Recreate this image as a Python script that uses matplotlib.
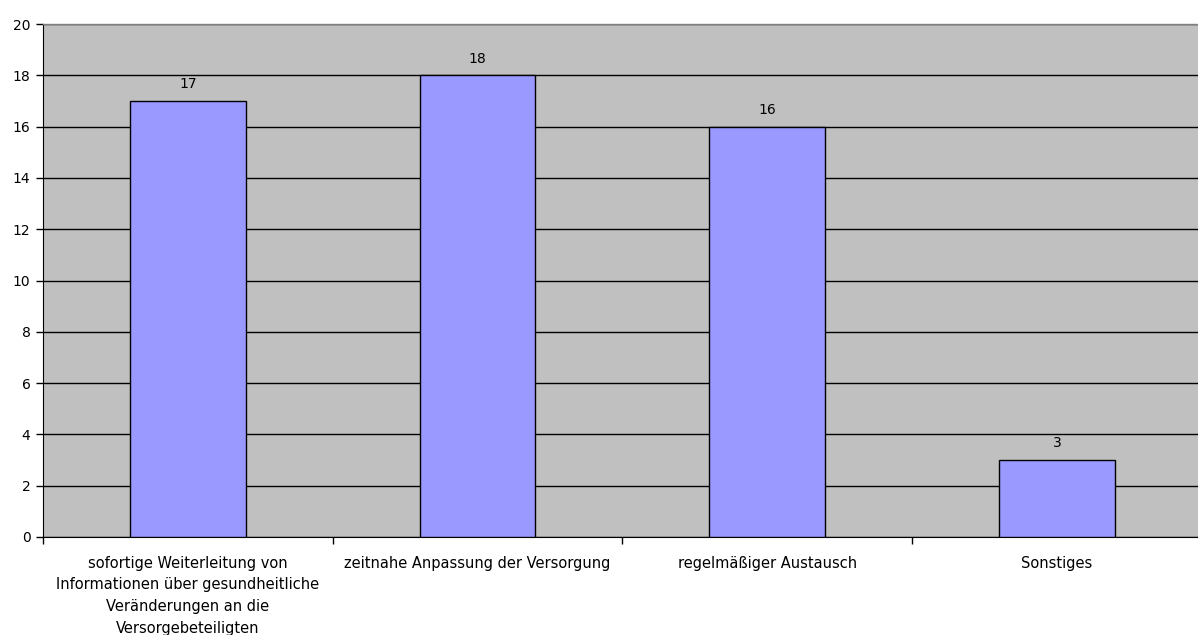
import matplotlib
matplotlib.use("Agg")
import matplotlib.pyplot as plt

categories = [
    "sofortige Weiterleitung von\nInformationen über gesundheitliche\nVeränderungen an die\nVersorgebeteiligten",
    "zeitnahe Anpassung der Versorgung",
    "regelmäßiger Austausch",
    "Sonstiges",
]
values = [17, 18, 16, 3]
yticks = [0, 2, 4, 6, 8, 10, 12, 14, 16, 18, 20]

plt.rcParams['font.family'] = ['DejaVu Sans']

W, H = 1198, 635
fig = plt.figure(figsize=(W / 100, H / 100), dpi=100)
left, right, top, bottom = 43, 1198, 24, 537
ax = fig.add_axes([left / W, 1 - bottom / H, (right - left) / W, (bottom - top) / H])
ax.set_facecolor('#C0C0C0')

cat_w = 289.7
xs = list(range(len(categories)))
bars = ax.bar(xs, values, width=0.4, color='#9999FF', edgecolor='#000000', linewidth=1, zorder=3)
for x, v in zip(xs, values):
    ax.annotate(str(v), (x, v), xytext=(0, 7), textcoords='offset points',
                ha='center', va='bottom', fontsize=10, color='#000000')

ax.set_xlim(-0.5, -0.5 + (right - left) / cat_w)
ax.set_ylim(0, 20)
ax.set_yticks(yticks)
ax.yaxis.grid(True, color='#000000', linewidth=1, zorder=1)
ax.set_axisbelow(True)
ax.tick_params(axis='y', direction='out', length=5, width=1, labelsize=10, pad=4, colors='#000000')

ax.set_xticks([x - 0.5 for x in xs])
ax.set_xticklabels([])
ax.set_xticks(xs, minor=True)
ax.set_xticklabels(categories, minor=True, fontsize=10.5)
ax.tick_params(axis='x', which='major', direction='out', length=5, width=1)
ax.tick_params(axis='x', which='minor', length=0, pad=13.5)
for lbl in ax.get_xticklabels(minor=True):
    lbl.set_linespacing(1.56)
    lbl.set_multialignment('center')

ax.spines['top'].set_color('#808080')
ax.spines['top'].set_linewidth(1)
ax.spines['right'].set_visible(False)
ax.spines['left'].set_color('#000000')
ax.spines['bottom'].set_color('#000000')

fig.savefig('out.png', dpi=100, facecolor='white')
